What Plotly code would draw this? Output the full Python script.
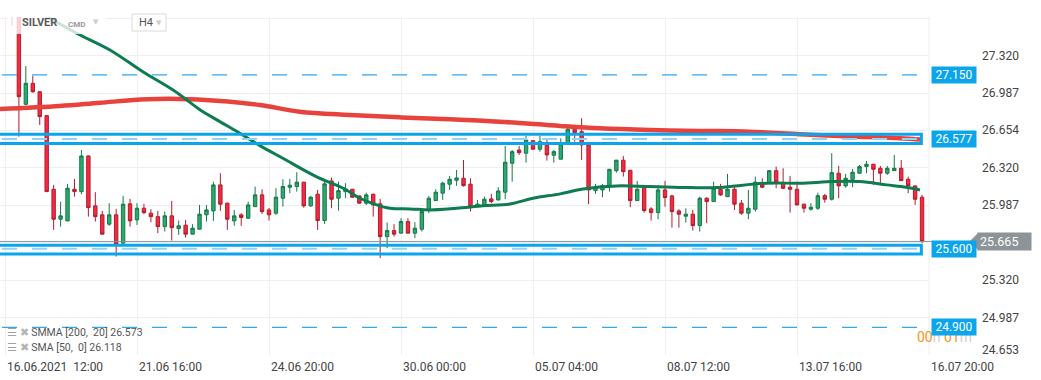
import plotly.graph_objects as go

# ---------------- data ----------------
candle_idx = list(range(1, 133))
opens = [27.90, 27.78, 26.887, 27.074, 26.999, 26.786, 26.130, 25.863, 25.848, 26.130,
         26.109, 26.427, 25.982, 25.902, 25.819, 25.902, 25.650, 26.000, 25.857, 25.961,
         25.917, 25.886, 25.797, 25.893, 25.780, 25.810, 25.730, 25.774, 25.902, 25.937,
         26.169, 26.006, 25.848, 25.902, 25.872, 25.975, 26.080, 25.946, 25.917, 26.050,
         26.148, 26.154, 26.193, 25.982, 26.086, 25.851, 26.204, 26.050, 26.109, 26.130,
         26.071, 26.006, 26.086, 26.000, 25.708, 25.762, 25.739, 25.842, 25.739, 25.774,
         25.946, 26.029, 26.095, 26.175, 26.210, 26.228, 26.175, 25.975, 25.990, 26.044,
         26.035, 26.104, 26.362, 26.480, 26.451, 26.563, 26.487, 26.525, 26.433, 26.398,
         26.540, 26.665, 26.643, 26.525, 26.118, 26.124, 26.160, 26.296, 26.389, 26.299,
         26.029, 26.148, 25.955, 25.922, 26.124, 26.071, 25.937, 25.890, 25.908, 25.806,
         26.050, 26.020, 26.130, 26.064, 26.130, 26.006, 25.917, 25.952, 26.189, 26.189,
         26.296, 26.184, 26.148, 26.130, 25.997, 25.952, 25.961, 26.073, 26.041, 26.273,
         26.160, 26.219, 26.273, 26.332, 26.353, 26.317, 26.273, 26.296, 26.317, 26.219,
         26.160, 26.059]
highs = [28.00, 27.85, 27.228, 27.142, 27.005, 26.790, 26.169, 26.020, 26.178, 26.222,
         26.480, 26.430, 26.104, 25.937, 26.006, 25.955, 26.071, 26.044, 26.006, 26.000,
         25.952, 25.937, 25.931, 26.026, 25.851, 25.857, 25.819, 25.990, 25.990, 26.198,
         26.273, 26.010, 25.946, 25.917, 26.020, 26.154, 26.130, 25.964, 26.139, 26.219,
         26.222, 26.282, 26.196, 26.071, 26.124, 26.204, 26.234, 26.198, 26.184, 26.133,
         26.074, 26.100, 26.089, 26.044, 25.833, 25.819, 25.872, 25.872, 25.836, 25.961,
         26.071, 26.130, 26.198, 26.249, 26.302, 26.391, 26.228, 26.035, 26.064, 26.089,
         26.148, 26.516, 26.480, 26.516, 26.605, 26.566, 26.605, 26.576, 26.480, 26.584,
         26.685, 26.688, 26.763, 26.528, 26.178, 26.178, 26.310, 26.392, 26.427, 26.302,
         26.204, 26.169, 25.970, 26.169, 26.204, 26.080, 25.952, 25.961, 25.946, 26.064,
         26.059, 26.198, 26.178, 26.267, 26.148, 26.035, 26.124, 26.243, 26.228, 26.299,
         26.332, 26.317, 26.249, 26.198, 26.000, 26.006, 26.100, 26.089, 26.451, 26.338,
         26.267, 26.311, 26.347, 26.382, 26.356, 26.338, 26.338, 26.436, 26.391, 26.243,
         26.163, 26.080]
lows = [27.59, 26.599, 26.880, 26.990, 26.703, 26.105, 25.768, 25.797, 25.845, 26.064,
        26.086, 25.886, 25.842, 25.728, 25.804, 25.530, 25.641, 25.797, 25.812, 25.908,
        25.836, 25.739, 25.753, 25.673, 25.723, 25.699, 25.728, 25.772, 25.842, 25.848,
        25.937, 25.768, 25.804, 25.804, 25.866, 25.972, 25.910, 25.851, 25.902, 25.975,
        26.095, 26.109, 25.966, 25.973, 25.768, 25.821, 25.961, 25.940, 26.050, 26.056,
        26.000, 25.990, 25.886, 25.516, 25.605, 25.708, 25.737, 25.737, 25.694, 25.753,
        25.917, 26.026, 26.035, 26.124, 26.160, 26.154, 25.931, 25.973, 25.982, 26.006,
        26.029, 26.041, 26.198, 26.436, 26.367, 26.485, 26.465, 26.385, 26.367, 26.396,
        26.538, 26.554, 26.391, 25.997, 26.089, 26.059, 26.109, 26.278, 26.243, 25.970,
        26.026, 25.922, 25.851, 25.863, 25.975, 25.788, 25.788, 25.833, 25.762, 25.753,
        25.828, 26.017, 26.071, 26.062, 25.946, 25.902, 25.863, 25.931, 26.139, 26.186,
        26.139, 26.130, 25.922, 25.988, 25.922, 25.940, 25.946, 26.011, 26.029, 26.050,
        26.145, 26.148, 26.270, 26.273, 26.169, 26.184, 26.258, 26.293, 26.204, 26.095,
        25.990, 25.650]
closes = [27.78, 26.955, 27.074, 26.999, 26.777, 26.109, 25.863, 25.893, 26.139, 26.109,
          26.427, 25.966, 25.886, 25.730, 25.902, 25.641, 25.997, 25.848, 25.961, 25.922,
          25.886, 25.797, 25.893, 25.788, 25.804, 25.730, 25.783, 25.908, 25.946, 26.169,
          25.997, 25.863, 25.893, 25.878, 25.990, 26.080, 25.931, 25.902, 26.059, 26.154,
          26.166, 26.193, 25.982, 26.059, 25.851, 26.178, 26.041, 26.118, 26.133, 26.059,
          26.006, 26.080, 25.990, 25.708, 25.762, 25.730, 25.842, 25.739, 25.783, 25.931,
          26.050, 26.104, 26.184, 26.219, 26.231, 26.162, 25.975, 25.997, 26.041, 26.020,
          26.115, 26.371, 26.465, 26.456, 26.569, 26.487, 26.554, 26.436, 26.465, 26.534,
          26.665, 26.635, 26.525, 26.124, 26.148, 26.162, 26.308, 26.389, 26.287, 26.029,
          26.130, 25.940, 25.922, 26.124, 26.056, 25.931, 25.908, 25.908, 25.806, 26.050,
          26.020, 26.139, 26.080, 26.130, 25.997, 25.917, 25.961, 26.193, 26.148, 26.296,
          26.193, 26.139, 26.130, 25.990, 25.961, 25.970, 26.073, 26.041, 26.278, 26.160,
          26.228, 26.282, 26.332, 26.353, 26.308, 26.273, 26.317, 26.317, 26.207, 26.160,
          26.041, 25.665]

smma_idx = [-0.72, 7.9, 13.7, 20.4, 25.2, 30.5, 36.7, 42.4, 49.6, 56.8, 64.0, 71.2,
            79.9, 85.6, 92.8, 100.0, 107.2, 114.4, 121.6, 128.8, 131.9]
smma_vals = [26.845, 26.872, 26.901, 26.932, 26.935, 26.919, 26.881, 26.821, 26.792,
             26.771, 26.754, 26.732, 26.694, 26.673, 26.658, 26.650, 26.643, 26.620,
             26.599, 26.585, 26.573]

sma_idx = [2.0, 6.5, 10.3, 15.1, 19.9, 24.2, 28.1, 30.5, 33.8, 36.7, 40.0, 44.8, 48.7,
           51.1, 53.5, 55.4, 58.3, 61.2, 65.0, 68.8, 72.7, 76.0, 79.9, 83.2, 88.0, 92.8,
           98.6, 102.4, 109.6, 114.4, 119.2, 123.0, 126.9, 129.7, 131.7]
sma_vals = [27.81, 27.653, 27.520, 27.371, 27.175, 27.014, 26.837, 26.748, 26.629, 26.519,
            26.406, 26.243, 26.139, 26.050, 25.991, 25.961, 25.955, 25.946, 25.961, 25.982,
            25.999, 26.050, 26.089, 26.133, 26.160, 26.154, 26.145, 26.145, 26.184, 26.184,
            26.198, 26.198, 26.169, 26.148, 26.124]

y_ticks = [24.653, 24.987, 25.320, 25.654, 25.987, 26.320, 26.654, 26.987, 27.320, 27.654]
y_tick_labels = ["24.653", "24.987", "25.320", "25.654", "25.987", "26.320", "26.654",
                 "26.987", "27.320", ""]
x_ticks = [0, 19, 38, 57, 76, 95, 114, 133]
x_tick_labels = ["16.06.2021\u00a0\u00a012:00", "21.06\u00a016:00",
                 "24.06\u00a020:00", "30.06\u00a000:00", "05.07\u00a004:00",
                 "08.07\u00a012:00", "13.07\u00a016:00", "16.07\u00a020:00"]

dashed_levels = [27.150, 24.900]
zone_levels = [26.577, 25.600]
zone_bounds = [(26.538, 26.621), (25.553, 25.632)]
level_labels = ["27.150", "26.577", "25.600", "24.900"]
level_label_values = [27.150, 26.577, 25.600, 24.900]
last_price = 25.665
smma_label = "SMMA [200,\u00a0 20] 26.573"
sma_label = "SMA [50,\u00a0 0] 26.118"

# ---------------- layout geometry ----------------
W, H = 1041, 380
ML, MR, MT, MB = 0, 112, 17, 25
PW = W - ML - MR
PH = H - MT - MB
X_RANGE = [-0.72, 133.0]
Y_RANGE = [24.653, 27.665]


def xp(px):
    return (px - ML) / PW


def yp(py):
    return (H - MB - py) / PH


FONT = "Roboto, 'Open Sans', sans-serif"
BLUE = "#0BA5EC"

fig = go.Figure()

fig.add_trace(go.Candlestick(
    x=candle_idx, open=opens, high=highs, low=lows, close=closes,
    increasing=dict(line=dict(color="#17784A", width=1), fillcolor="#2CA96E"),
    decreasing=dict(line=dict(color="#B01D2D", width=1), fillcolor="#F42B40"),
    whiskerwidth=0, showlegend=False, hoverinfo="skip",
))
fig.add_trace(go.Scatter(
    x=smma_idx, y=smma_vals, mode="lines", line=dict(color="#E8423D", width=4.5, shape="spline"),
    showlegend=False, hoverinfo="skip",
))
fig.add_trace(go.Scatter(
    x=sma_idx, y=sma_vals, mode="lines", line=dict(color="#0E7C50", width=3, shape="spline"),
    showlegend=False, hoverinfo="skip",
))

shapes = []
for lv in dashed_levels:
    shapes.append(dict(type="line", xref="x", yref="y", x0=-0.43, x1=131.4, y0=lv, y1=lv,
                       line=dict(color="#2FA8EE", width=1.3, dash="15px,15px"), layer="above"))
for lv in zone_levels:
    shapes.append(dict(type="line", xref="x", yref="y", x0=-0.43, x1=131.4, y0=lv, y1=lv,
                       line=dict(color="#8ED3F8", width=2, dash="15px,15px"), layer="above"))
for lo, hi in zone_bounds:
    shapes.append(dict(type="rect", xref="x", yref="y", x0=-2, x1=131.9, y0=lo, y1=hi,
                       line=dict(color=BLUE, width=3), fillcolor="rgba(0,0,0,0)", layer="above"))
shapes.append(dict(type="line", xref="paper", yref="y", x0=0, x1=xp(972), y0=last_price,
                   y1=last_price, line=dict(color="#8C9498", width=1), layer="above"))
shapes.append(dict(type="line", xref="paper", yref="paper", x0=1, x1=1, y0=0, y1=1,
                   line=dict(color="#EFEFEF", width=1), layer="below"))
shapes.append(dict(type="path", xref="paper", yref="paper",
                   path=f"M {xp(969.5)},{yp(241.6)} L {xp(978)},{yp(233)} L {xp(978)},{yp(250)} Z",
                   fillcolor="#8C9498", line=dict(width=0), layer="above"))
shapes.append(dict(type="rect", xref="paper", yref="paper", x0=xp(8), x1=xp(106),
                   y0=yp(34), y1=yp(14), fillcolor="rgba(255,255,255,0.78)",
                   line=dict(width=0), layer="above"))
shapes.append(dict(type="rect", xref="paper", yref="paper", x0=xp(132), x1=xp(166),
                   y0=yp(31), y1=yp(14), fillcolor="white",
                   line=dict(color="#DADADA", width=1), layer="above"))

ann = []
for v, t in zip(y_ticks, y_tick_labels):
    if not t:
        continue
    ann.append(dict(xref="paper", yref="y", x=xp(980), y=v, text=t, showarrow=False,
                    xanchor="left", yanchor="middle", yshift=5 if v == y_ticks[0] else 0,
                    font=dict(family=FONT, size=12, color="#444444")))
for v, t in zip(x_ticks, x_tick_labels):
    ann.append(dict(xref="x", yref="paper", x=v, y=yp(367), text=t, showarrow=False,
                    xanchor="left", yanchor="middle", xshift=0,
                    font=dict(family=FONT, size=12, color="#444444")))
# countdown, mostly hidden behind the 24.900 box as in the reference
ann.append(dict(xref="paper", yref="paper", x=xp(915), y=yp(337), showarrow=False,
                xanchor="left", yanchor="middle",
                text="<span style='color:#F7941D'>00</span><span style='color:#D0D0D0'>h</span> "
                     "<span style='color:#F7941D'>01</span><span style='color:#D0D0D0'>m</span>",
                font=dict(family=FONT, size=14, color="#F7941D")))
for v, t in zip(level_label_values, level_labels):
    ann.append(dict(xref="paper", yref="y", x=xp(931), y=v, text=t, showarrow=False,
                    xanchor="left", yanchor="middle", bgcolor=BLUE, borderpad=2,
                    width=40, height=12, align="center",
                    font=dict(family=FONT, size=12, color="white")))
ann.append(dict(xref="paper", yref="y", x=xp(977), y=last_price, text="25.665",
                showarrow=False, xanchor="left", yanchor="middle", bgcolor="#8C9498",
                borderpad=2, width=49, height=13, align="left",
                font=dict(family=FONT, size=12.5, color="white")))
for py, label in [(332.5, smma_label), (347, sma_label)]:
    ann.append(dict(xref="paper", yref="paper", x=xp(5), y=yp(py), showarrow=False,
                    xanchor="left", yanchor="middle",
                    text=f"<span style='color:#A0A0A0'>\u2630</span> "
                         f"<span style='color:#B5B5B5'>\u2716</span> {label}",
                    font=dict(family=FONT, size=10.5, color="#555555")))
ann.append(dict(xref="paper", yref="paper", x=xp(20), y=yp(23), text="<b>SILVER</b>",
                showarrow=False, xanchor="left", yanchor="middle",
                font=dict(family=FONT, size=11, color="#5A5A5A")))
ann.append(dict(xref="paper", yref="paper", x=xp(66), y=yp(24), text="<b>CMD</b>",
                showarrow=False, xanchor="left", yanchor="middle",
                font=dict(family=FONT, size=8, color="#9A9A9A")))
ann.append(dict(xref="paper", yref="paper", x=xp(95.5), y=yp(21.5), text="\u25BC",
                showarrow=False, xanchor="center", yanchor="middle",
                font=dict(family="DejaVu Sans", size=7, color="#CCCCCC")))
ann.append(dict(xref="paper", yref="paper", x=xp(136.5), y=yp(23), text="H4",
                showarrow=False, xanchor="left", yanchor="middle",
                font=dict(family=FONT, size=11, color="#555555")))
ann.append(dict(xref="paper", yref="paper", x=xp(158.5), y=yp(22.5), text="\u25BC",
                showarrow=False, xanchor="center", yanchor="middle",
                font=dict(family="DejaVu Sans", size=7, color="#CCCCCC")))

fig.update_layout(
    width=W, height=H,
    margin=dict(l=ML, r=MR, t=MT, b=MB, pad=0),
    paper_bgcolor="white", plot_bgcolor="white",
    showlegend=False,
    shapes=shapes, annotations=ann,
    xaxis=dict(range=X_RANGE, tickvals=x_ticks, showticklabels=False, showgrid=True,
               gridcolor="#EFEFEF", gridwidth=1, zeroline=False, showline=False,
               rangeslider=dict(visible=False), fixedrange=True),
    yaxis=dict(range=Y_RANGE, tickvals=y_ticks, showticklabels=False, showgrid=True,
               gridcolor="#EFEFEF", gridwidth=1, zeroline=False, showline=False,
               fixedrange=True),
)

fig.write_html("out.html", config={"displayModeBar": False},
               post_script="document.body.style.margin='0';document.body.style.overflow='hidden';")
